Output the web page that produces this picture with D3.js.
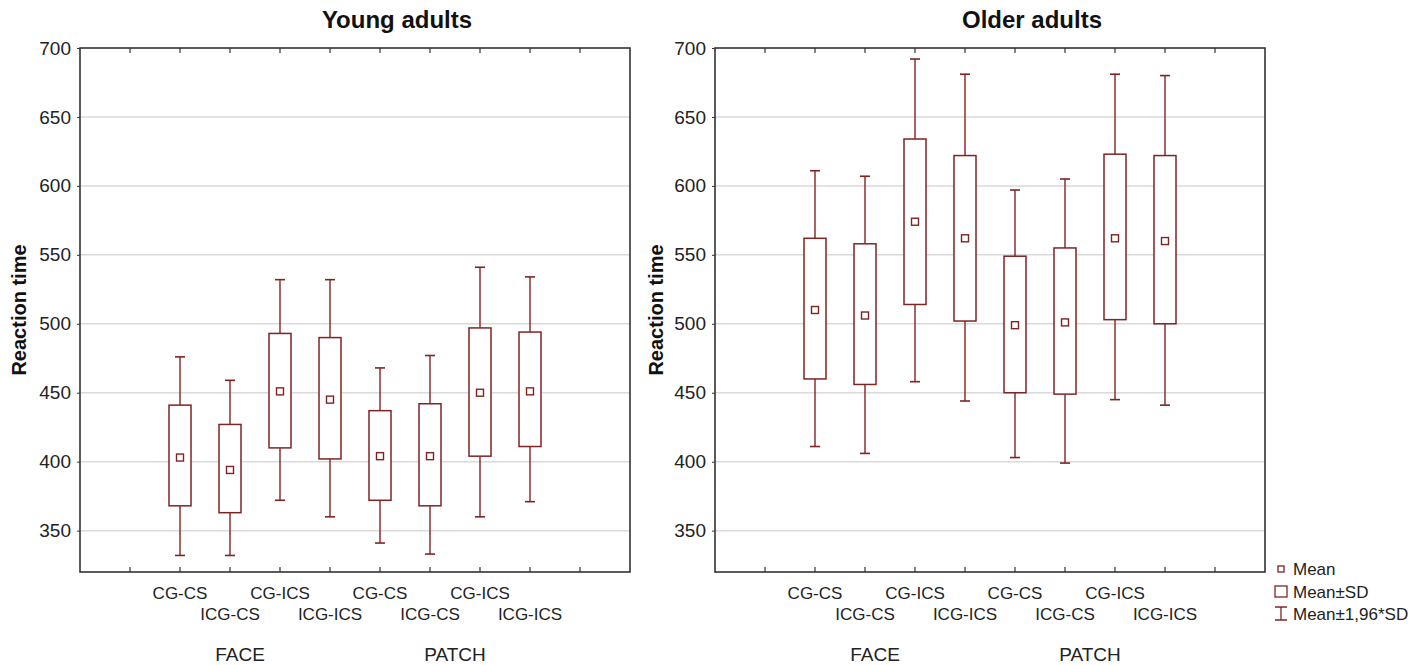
<!DOCTYPE html>
<html>
<head>
<meta charset="utf-8">
<script src="https://cdn.jsdelivr.net/npm/d3@7"></script>
<style>
  html, body { margin: 0; padding: 0; background: #fff; }
  svg { display: block; font-family: "Liberation Sans", Arial, sans-serif; }
</style>
</head>
<body>
<svg id="chart" width="1426" height="665"></svg>
<script>
// ---- data ----
const categories = ["CG-CS", "ICG-CS", "CG-ICS", "ICG-ICS", "CG-CS", "ICG-CS", "CG-ICS", "ICG-ICS"];
const groups = ["FACE", "PATCH"];
const yTicks = [350, 400, 450, 500, 550, 600, 650, 700];
const panelTitles = ["Young adults", "Older adults"];
const yLabel = "Reaction time";
const legendLabels = ["Mean", "Mean\u00B1SD", "Mean\u00B11,96*SD"];

const youngMean   = [403, 394, 451, 445, 404, 404, 450, 451];
const youngSdLow  = [368, 363, 410, 402, 372, 368, 404, 411];
const youngSdHigh = [441, 427, 493, 490, 437, 442, 497, 494];
const youngCiLow  = [332, 332, 372, 360, 341, 333, 360, 371];
const youngCiHigh = [476, 459, 532, 532, 468, 477, 541, 534];

const olderMean   = [510, 506, 574, 562, 499, 501, 562, 560];
const olderSdLow  = [460, 456, 514, 502, 450, 449, 503, 500];
const olderSdHigh = [562, 558, 634, 622, 549, 555, 623, 622];
const olderCiLow  = [411, 406, 458, 444, 403, 399, 445, 441];
const olderCiHigh = [611, 607, 692, 681, 597, 605, 681, 680];

// ---- layout ----
const svg = d3.select("#chart");
const boxColor = "#7f2424";
const axisColor = "#333";
const gridColor = "#dadada";
const plotTop = 48, plotBottom = 572;
const y = d3.scaleLinear().domain([320, 700]).range([plotBottom, plotTop]);

const panels = [
  { x0: 80,  x1: 630, title: panelTitles[0], ylabX: 18,
    mean: youngMean, sdLo: youngSdLow, sdHi: youngSdHigh, ciLo: youngCiLow, ciHi: youngCiHigh },
  { x0: 715, x1: 1265, title: panelTitles[1], ylabX: 655,
    mean: olderMean, sdLo: olderSdLow, sdHi: olderSdHigh, ciLo: olderCiLow, ciHi: olderCiHigh }
];

panels.forEach(p => {
  const x = d3.scaleLinear().domain([0, categories.length + 3]).range([p.x0, p.x1]);
  const pos = i => x(i + 2);
  const g = svg.append("g");

  // gridlines
  g.selectAll("line.grid").data(yTicks.filter(t => t < 700)).enter().append("line")
    .attr("x1", p.x0).attr("x2", p.x1)
    .attr("y1", d => y(d)).attr("y2", d => y(d))
    .attr("stroke", gridColor).attr("stroke-width", 1.5);

  // y axis with labels
  const yAxis = d3.axisLeft(y).tickValues(yTicks).tickSize(3).tickPadding(6);
  const ya = g.append("g").attr("transform", `translate(${p.x0},0)`).call(yAxis);
  ya.select(".domain").remove();
  ya.selectAll("line").attr("stroke", axisColor);
  ya.selectAll("text").attr("font-size", 19).attr("fill", "#222")
    .attr("font-family", "'Liberation Sans', Arial, sans-serif");

  // frame
  g.append("rect").attr("x", p.x0).attr("y", plotTop)
    .attr("width", p.x1 - p.x0).attr("height", plotBottom - plotTop)
    .attr("fill", "none").attr("stroke", axisColor).attr("stroke-width", 1.6);

  // inner x ticks (top and bottom)
  const tickSlots = d3.range(1, categories.length + 3);
  g.selectAll("line.tb").data(tickSlots).enter().append("line")
    .attr("x1", d => x(d)).attr("x2", d => x(d))
    .attr("y1", plotBottom).attr("y2", plotBottom - 5)
    .attr("stroke", axisColor).attr("stroke-width", 1.2);
  g.selectAll("line.tt").data(tickSlots).enter().append("line")
    .attr("x1", d => x(d)).attr("x2", d => x(d))
    .attr("y1", plotTop).attr("y2", plotTop + 5)
    .attr("stroke", axisColor).attr("stroke-width", 1.2);

  // whiskers
  const idx = d3.range(categories.length);
  const bw = 22, cw = 10, ms = 7;
  g.selectAll("line.wh").data(idx).enter().append("line")
    .attr("x1", i => pos(i)).attr("x2", i => pos(i))
    .attr("y1", i => y(p.ciLo[i])).attr("y2", i => y(p.ciHi[i]))
    .attr("stroke", boxColor).attr("stroke-width", 1.4);
  ["ciLo", "ciHi"].forEach(k => {
    g.selectAll("line.cap" + k).data(idx).enter().append("line")
      .attr("x1", i => pos(i) - cw / 2).attr("x2", i => pos(i) + cw / 2)
      .attr("y1", i => y(p[k][i])).attr("y2", i => y(p[k][i]))
      .attr("stroke", boxColor).attr("stroke-width", 1.6);
  });
  // boxes
  g.selectAll("rect.box").data(idx).enter().append("rect")
    .attr("x", i => pos(i) - bw / 2).attr("width", bw)
    .attr("y", i => y(p.sdHi[i])).attr("height", i => y(p.sdLo[i]) - y(p.sdHi[i]))
    .attr("fill", "#fff").attr("stroke", boxColor).attr("stroke-width", 1.5);
  // mean squares
  g.selectAll("rect.mean").data(idx).enter().append("rect")
    .attr("x", i => pos(i) - ms / 2).attr("y", i => y(p.mean[i]) - ms / 2)
    .attr("width", ms).attr("height", ms)
    .attr("fill", "#fff").attr("stroke", boxColor).attr("stroke-width", 1.4);

  // category labels (staggered)
  g.selectAll("text.cat").data(idx).enter().append("text")
    .attr("x", i => pos(i)).attr("y", i => i % 2 === 0 ? 599 : 620)
    .attr("text-anchor", "middle").attr("font-size", 17).attr("fill", "#222")
    .text(i => categories[i]);

  // group labels
  groups.forEach((gr, k) => {
    const c = (pos(k * 4) + pos(k * 4 + 3)) / 2 - (k === 0 ? 15 : 0);
    g.append("text").attr("x", c).attr("y", 661)
      .attr("text-anchor", "middle").attr("font-size", 19).attr("fill", "#222")
      .text(gr);
  });

  // title
  g.append("text").attr("x", (p.x0 + p.x1) / 2 + 42).attr("y", 28)
    .attr("text-anchor", "middle").attr("font-size", 24).attr("font-weight", "bold")
    .attr("fill", "#111").text(p.title);

  // y label
  g.append("text").attr("transform", `translate(${p.ylabX + 8},${(plotTop + plotBottom) / 2}) rotate(-90)`)
    .attr("text-anchor", "middle").attr("font-size", 20).attr("font-weight", "bold")
    .attr("fill", "#111").text(yLabel);
});

// legend
const lg = svg.append("g");
const lx = 1281;
lg.append("rect").attr("x", lx - 3).attr("y", 566).attr("width", 6).attr("height", 6)
  .attr("fill", "#fff").attr("stroke", boxColor).attr("stroke-width", 1.3);
lg.append("rect").attr("x", lx - 6).attr("y", 586).attr("width", 12).attr("height", 11)
  .attr("fill", "#fff").attr("stroke", boxColor).attr("stroke-width", 1.3);
lg.append("line").attr("x1", lx).attr("x2", lx).attr("y1", 607).attr("y2", 620)
  .attr("stroke", boxColor).attr("stroke-width", 1.3);
[607, 620].forEach(yy => lg.append("line").attr("x1", lx - 6).attr("x2", lx + 6)
  .attr("y1", yy).attr("y2", yy).attr("stroke", boxColor).attr("stroke-width", 1.5));
legendLabels.forEach((t, i) => {
  lg.append("text").attr("x", 1293).attr("y", 575 + i * 22.5)
    .attr("font-size", 17).attr("fill", "#222").text(t);
});
</script>
</body>
</html>
